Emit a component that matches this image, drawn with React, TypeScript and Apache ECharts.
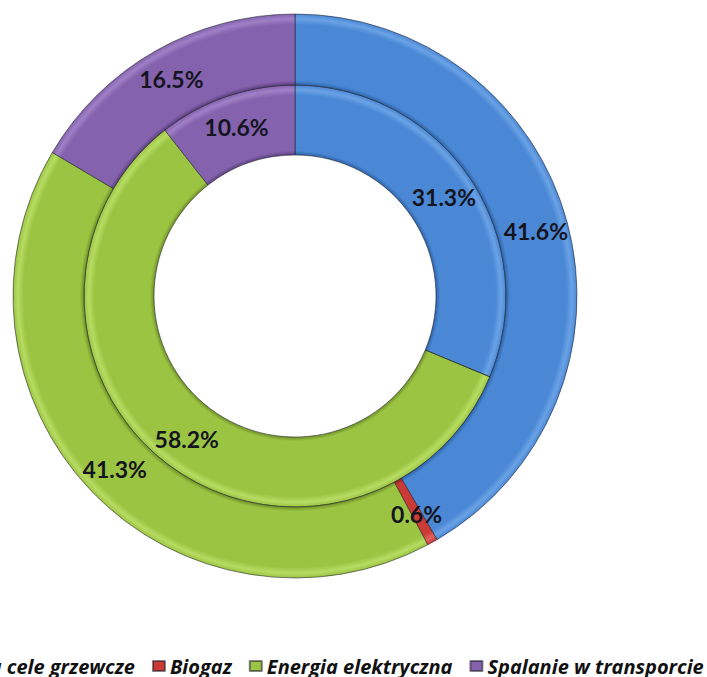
import React, { useEffect, useRef } from "react";
import * as echarts from "echarts";

const categories = [
  "Spalanie na cele grzewcze",
  "Biogaz",
  "Energia elektryczna",
  "Spalanie w transporcie",
];
const outerValues = [41.6, 0.6, 41.3, 16.5];
const innerValues = [31.3, 0, 58.2, 10.6];
const baseColors = ["#4a88d6", "#cc3a35", "#9cc443", "#8462ad"];
const darkColors = ["#2f64a8", "#8e2420", "#6f9128", "#5c4080"];
const lightColors = ["#6aa2e4", "#e0625c", "#b6dc62", "#9f80c6"];

const CX = 295;
const CY = 296;
const R_OUT = 282;
const R_MID = 211;
const R_IN = 141;

function ringGradient(i: number, r0: number, r1: number) {
  const a = r0 / r1;
  const span = 1 - a;
  return {
    type: "radial",
    x: CX,
    y: CY,
    r: r1,
    global: true,
    colorStops: [
      { offset: 0, color: darkColors[i] },
      { offset: a, color: darkColors[i] },
      { offset: a + span * 0.06, color: baseColors[i] },
      { offset: a + span * 0.85, color: baseColors[i] },
      { offset: a + span * 0.93, color: lightColors[i] },
      { offset: 1, color: baseColors[i] },
    ],
  };
}

function buildData(values: number[], r0: number, r1: number) {
  return values.map((v, i) => ({
    name: categories[i],
    value: v,
    itemStyle: { color: ringGradient(i, r0, r1) },
    label: { show: v > 0 },
  }));
}

export default function App() {
  const ref = useRef<HTMLDivElement>(null);
  useEffect(() => {
    document.body.style.margin = "0";
    if (!ref.current) return;
    const chart = echarts.init(ref.current, undefined, { renderer: "svg" });
    const labelStyle = {
      show: true,
      position: "inside",
      formatter: (p: any) => p.value.toFixed(1) + "%",
      fontFamily: "Lato",
      fontWeight: "bold",
      fontSize: 23,
      color: "#14141e",
    };
    chart.setOption({
      animation: false,
      backgroundColor: "#ffffff",
      legend: {
        left: -127,
        top: 656,
        padding: 0,
        itemWidth: 12,
        itemHeight: 10,
        itemGap: 17,
        icon: "rect",
        textStyle: {
          fontFamily: "Open Sans",
          fontStyle: "italic",
          fontWeight: "bold",
          fontSize: 20,
          color: "#111",
        },
        data: categories.map((c, i) => ({
          name: c,
          itemStyle: { color: baseColors[i] },
        })),
      },
      series: [
        {
          type: "pie",
          name: "inner",
          center: [CX, CY],
          radius: [R_IN, R_MID],
          startAngle: 90,
          clockwise: true,
          avoidLabelOverlap: false,
          label: labelStyle,
          labelLine: { show: false },
          itemStyle: { borderColor: "rgba(30,30,40,0.55)", borderWidth: 1 },
          emphasis: { disabled: true },
          data: buildData(innerValues, R_IN, R_MID),
        },
        {
          type: "pie",
          name: "outer",
          center: [CX, CY],
          radius: [R_MID, R_OUT],
          startAngle: 90,
          clockwise: true,
          avoidLabelOverlap: false,
          label: labelStyle,
          labelLine: { show: false },
          itemStyle: { borderColor: "rgba(30,30,40,0.55)", borderWidth: 1 },
          emphasis: { disabled: true },
          data: buildData(outerValues, R_MID, R_OUT),
        },
      ],
    });
    return () => chart.dispose();
  }, []);
  return <div ref={ref} style={{ width: 707, height: 677 }} />;
}
